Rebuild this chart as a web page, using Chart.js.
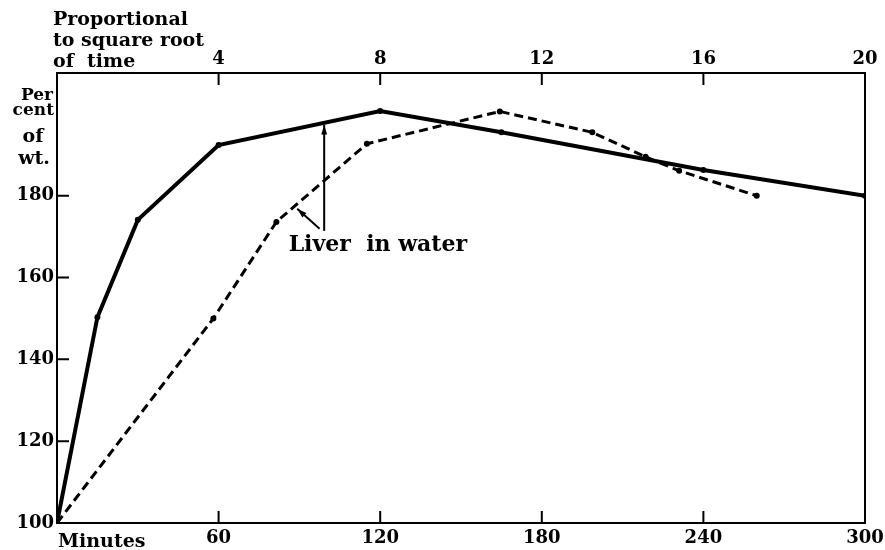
<!DOCTYPE html>
<html>
<head>
<meta charset="utf-8">
<script src="https://cdn.jsdelivr.net/npm/chart.js@4/dist/chart.umd.min.js"></script>
<style>
  body { margin: 0; background: #fff; }
  canvas { display: block; }
</style>
</head>
<body>
<canvas id="liverChart" width="885" height="550"></canvas>
<script>
// minutes (bottom axis) -> solid line
const minutes = [0, 15, 30, 60, 120, 165, 240, 300];
const pctByMinutes = [100, 150.3, 174.1, 192.4, 200.7, 195.5, 186.3, 180];

// proportional to square root of time (top axis) -> dashed line
const sqrtTime = [0, 3.87, 5.43, 7.67, 10.96, 13.25, 14.57, 15.4, 17.32];
const pctBySqrt = [100, 150, 173.6, 192.7, 200.6, 195.5, 189.5, 186.1, 180];

const yTicks = [100, 120, 140, 160, 180];
const minuteTicks = [0, 60, 120, 180, 240, 300];
const sqrtTicks = [0, 4, 8, 12, 16, 20];

const FONT = 'bold 19px "DejaVu Serif", serif';
const tickFont = { family: '"DejaVu Serif", serif', size: 18, weight: 'bold' };

const toPoints = (xs, ys) => xs.map((x, i) => ({ x: x, y: ys[i] }));

// inward tick marks, frame and the hand-lettered labels
const decorations = {
  id: 'decorations',
  afterDraw(chart) {
    const ctx = chart.ctx;
    const area = chart.chartArea;
    const { x, x2, y } = chart.scales;
    const len = 12;

    ctx.save();
    ctx.strokeStyle = '#000';
    ctx.lineWidth = 2;
    ctx.strokeRect(area.left, area.top, area.right - area.left, area.bottom - area.top);

    ctx.beginPath();
    minuteTicks.slice(1, -1).forEach(v => {
      const px = x.getPixelForValue(v);
      ctx.moveTo(px, area.bottom);
      ctx.lineTo(px, area.bottom - len);
    });
    sqrtTicks.slice(1, -1).forEach(v => {
      const px = x2.getPixelForValue(v);
      ctx.moveTo(px, area.top);
      ctx.lineTo(px, area.top + len);
    });
    yTicks.slice(1).forEach(v => {
      const py = y.getPixelForValue(v);
      ctx.moveTo(area.left, py);
      ctx.lineTo(area.left + len, py);
    });
    ctx.stroke();

    ctx.fillStyle = '#000';
    ctx.font = FONT;
    ctx.textBaseline = 'alphabetic';

    // top-left axis caption
    ctx.textAlign = 'left';
    ctx.fillText('Proportional', 53, 25);
    ctx.fillText('to square root', 53, 46);
    ctx.fillText('of  time', 53, 67);

    // y caption
    ctx.font = 'bold 17px "DejaVu Serif", serif';
    ctx.textAlign = 'right';
    ctx.fillText('Per', 53, 100);
    ctx.fillText('cent', 54, 115);
    ctx.textAlign = 'center';
    ctx.font = FONT;
    ctx.fillText('of', 33, 142);
    ctx.fillText('wt.', 34, 164);

    // bottom caption
    ctx.textAlign = 'left';
    ctx.fillText('Minutes', area.left + 1, 547);

    // "Liver in water" label with two arrows
    ctx.font = 'bold 22px "DejaVu Serif", serif';
    ctx.fillText('Liver  in water', x.getPixelForValue(86), y.getPixelForValue(166.6));

    const arrow = (fx, fy, tx, ty) => {
      const x0 = x.getPixelForValue(fx), y0 = y.getPixelForValue(fy);
      const x1 = x.getPixelForValue(tx), y1 = y.getPixelForValue(ty);
      const a = Math.atan2(y1 - y0, x1 - x0);
      ctx.lineWidth = 2;
      ctx.beginPath();
      ctx.moveTo(x0, y0);
      ctx.lineTo(x1, y1);
      ctx.stroke();
      ctx.beginPath();
      ctx.moveTo(x1, y1);
      ctx.lineTo(x1 - 10 * Math.cos(a - 0.3), y1 - 10 * Math.sin(a - 0.3));
      ctx.lineTo(x1 - 10 * Math.cos(a + 0.3), y1 - 10 * Math.sin(a + 0.3));
      ctx.closePath();
      ctx.fill();
    };
    arrow(99.2, 171.4, 99.2, 197.3);
    arrow(97.5, 171.9, 89.2, 176.8);

    ctx.restore();
  }
};

new Chart(document.getElementById('liverChart'), {
  type: 'scatter',
  data: {
    datasets: [
      {
        label: 'Minutes',
        data: toPoints(minutes, pctByMinutes),
        xAxisID: 'x',
        showLine: true,
        borderColor: '#000',
        backgroundColor: '#000',
        borderWidth: 4,
        pointRadius: 3,
        pointBorderWidth: 0
      },
      {
        label: 'Square root of time',
        data: toPoints(sqrtTime, pctBySqrt),
        xAxisID: 'x2',
        showLine: true,
        borderColor: '#000',
        backgroundColor: '#000',
        borderWidth: 3,
        borderDash: [9, 5],
        pointRadius: 3,
        pointBorderWidth: 0
      }
    ]
  },
  options: {
    responsive: false,
    animation: false,
    devicePixelRatio: 1,
    layout: { padding: { right: 20 } },
    plugins: {
      legend: { display: false },
      tooltip: { enabled: false }
    },
    scales: {
      x: {
        type: 'linear',
        position: 'bottom',
        min: 0,
        max: 300,
        afterBuildTicks: s => { s.ticks = minuteTicks.map(v => ({ value: v })); },
        afterFit: s => { s.height = 27; s.paddingRight = 0; s.paddingLeft = 0; },
        grid: { display: false, drawTicks: false },
        border: { display: false },
        ticks: {
          padding: 5,
          color: '#000',
          font: tickFont,
          callback: v => (v === 0 ? '' : v)
        }
      },
      x2: {
        type: 'linear',
        position: 'top',
        min: 0,
        max: 20,
        afterBuildTicks: s => { s.ticks = sqrtTicks.map(v => ({ value: v })); },
        afterFit: s => { s.height = 73; s.paddingRight = 0; s.paddingLeft = 0; },
        grid: { display: false, drawTicks: false },
        border: { display: false },
        ticks: {
          padding: 3,
          color: '#000',
          font: tickFont,
          callback: v => (v === 0 ? '' : v)
        }
      },
      y: {
        min: 100,
        max: 210,
        afterBuildTicks: s => { s.ticks = yTicks.map(v => ({ value: v })); },
        afterFit: s => { s.width = 57; s.paddingTop = 0; s.paddingBottom = 0; },
        grid: { display: false, drawTicks: false },
        border: { display: false },
        ticks: {
          padding: 3,
          color: '#000',
          font: tickFont
        }
      }
    }
  },
  plugins: [decorations]
});
</script>
</body>
</html>
